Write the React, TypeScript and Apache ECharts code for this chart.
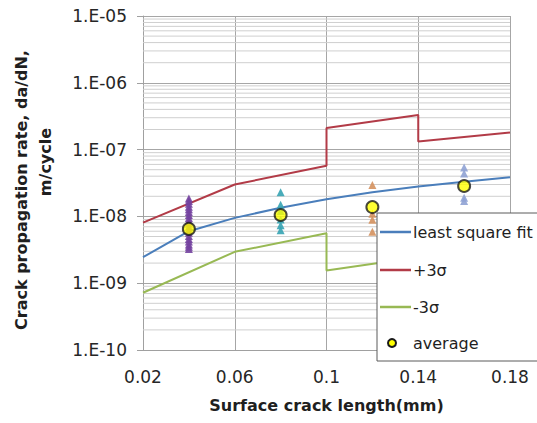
import React, { useEffect, useRef } from "react";
import * as echarts from "echarts";

// ---------- data ----------
const fitX = [0.02, 0.04, 0.06, 0.08, 0.1, 0.12, 0.14, 0.16, 0.18];
const fitY = [2.45e-9, 6.0e-9, 9.5e-9, 1.35e-8, 1.8e-8, 2.3e-8, 2.8e-8, 3.3e-8, 3.85e-8];

const bandX = [0.02, 0.06, 0.1, 0.1, 0.14, 0.14, 0.18];
const upperY = [8.05e-9, 3.0e-8, 5.75e-8, 2.1e-7, 3.3e-7, 1.32e-7, 1.8e-7];
const lowerY = [7.2e-10, 2.95e-9, 5.6e-9, 1.55e-9, 2.45e-9, 6.2e-9, 8.2e-9];

const group04 = [1.85e-8, 1.7e-8, 1.55e-8, 1.4e-8, 1.28e-8, 1.16e-8, 1.05e-8, 9.5e-9, 8.6e-9, 7.8e-9, 7.0e-9, 6.3e-9, 5.7e-9, 5.1e-9, 4.6e-9, 4.2e-9, 3.8e-9, 3.5e-9, 3.25e-9];
const group08 = [2.3e-8, 1.5e-8, 1.2e-8, 9.0e-9, 7.4e-9, 6.2e-9];
const group12 = [2.95e-8, 1.1e-8, 8.9e-9, 5.9e-9];
const group16 = [5.4e-8, 4.4e-8, 1.9e-8, 1.7e-8];
const groupX = [0.04, 0.08, 0.12, 0.16];

const averageX = [0.04, 0.08, 0.12, 0.16];
const averageY = [6.5e-9, 1.05e-8, 1.38e-8, 2.85e-8];

const xMin = 0.02;
const xMax = 0.18;
const xTickLabels = ["0.02", "0.06", "0.1", "0.14", "0.18"];
const yTickLabels = ["1.E-10", "1.E-09", "1.E-08", "1.E-07", "1.E-06", "1.E-05"];
const decadeExponents = [-10, -9, -8, -7, -6];
const minorMultipliers = [2, 3, 4, 5, 6, 7, 8, 9];

const legendNames = ["least square fit", "+3σ", "-3σ", "average"];

const FONT = "DejaVu Sans";
const C_FIT = "#4A7EBB";
const C_UP = "#B23B47";
const C_LOW = "#98B954";
const TRI_COLORS = ["#7443A0", "#35A3B3", "#D4915E", "#8FA2D4"];

export default function App() {
  const ref = useRef<HTMLDivElement>(null);

  useEffect(() => {
    document.body.style.margin = "0";
    if (!ref.current) return;
    const chart = echarts.init(ref.current, undefined, { renderer: "svg" });

    const minorValues: number[] = [];
    decadeExponents.forEach((e) =>
      minorMultipliers.forEach((m) => minorValues.push(m * Math.pow(10, e)))
    );

    const zip = (xs: number[], ys: number[]) => xs.map((x, i) => [x, ys[i]]);
    const groups = [group04, group08, group12, group16];

    const legendTop = 213;
    const legendLeft = 377;
    const rowY = [232, 270, 307, 343];
    const legendColors = [C_FIT, C_UP, C_LOW];

    const legendGraphics: any[] = [
      {
        type: "rect",
        z: 50,
        shape: { x: legendLeft, y: legendTop, width: 200, height: 148 },
        style: { fill: "#ffffff", stroke: "#5a5a5a", lineWidth: 1 },
      },
    ];
    legendNames.forEach((name, i) => {
      if (i < 3) {
        legendGraphics.push({
          type: "line",
          z: 51,
          shape: { x1: 380, y1: rowY[i], x2: 411, y2: rowY[i] },
          style: { stroke: legendColors[i], lineWidth: 2.5 },
        });
      } else {
        legendGraphics.push({
          type: "circle",
          z: 51,
          shape: { cx: 392, cy: rowY[i], r: 4 },
          style: { fill: "#FFFF00", stroke: "#1a1a1a", lineWidth: 2 },
        });
      }
      legendGraphics.push({
        type: "text",
        z: 51,
        x: 413,
        y: rowY[i],
        style: {
          text: name,
          font: `16px "${FONT}"`,
          fill: "#1f1f1f",
          textAlign: "left",
          textVerticalAlign: "middle",
        },
      });
    });

    const option: any = {
      animation: false,
      backgroundColor: "#ffffff",
      textStyle: { fontFamily: FONT },
      grid: { left: 143, right: 27, top: 16, bottom: 73, outerBoundsMode: "none" },
      xAxis: {
        type: "value",
        min: xMin,
        max: xMax,
        interval: 0.02,
        name: "Surface crack length(mm)",
        nameLocation: "middle",
        nameGap: 47,
        nameTextStyle: { fontFamily: FONT, fontSize: 16, fontWeight: "bold", color: "#1f1f1f" },
        axisLine: { show: true, lineStyle: { color: "#a0a0a0", width: 1 } },
        axisTick: { show: false },
        axisLabel: {
          margin: 18,
          fontSize: 17,
          color: "#262626",
          fontFamily: FONT,
          formatter: (v: number) => {
            const hit = xTickLabels.find((t) => Math.abs(parseFloat(t) - v) < 1e-6);
            return hit || "";
          },
        },
        splitLine: {
          show: true,
          lineStyle: { color: ["#a6a6a6", "rgba(0,0,0,0)"], width: 1 },
        },
      },
      yAxis: {
        type: "log",
        logBase: 10,
        min: 1e-10,
        max: 1e-5,
        axisLine: { show: true, lineStyle: { color: "#a0a0a0", width: 1 } },
        axisTick: { show: true, length: 6, lineStyle: { color: "#a0a0a0" } },
        axisLabel: {
          margin: 16,
          fontSize: 17,
          color: "#262626",
          fontFamily: FONT,
          formatter: (v: number) => {
            const e = Math.round(Math.log10(v));
            return yTickLabels[e + 10] || "";
          },
        },
        splitLine: { show: true, lineStyle: { color: "#a6a6a6", width: 1 } },
      },
      graphic: [
        {
          type: "text",
          x: 21,
          y: 190,
          rotation: Math.PI / 2,
          style: {
            text: "Crack propagation rate, da/dN,",
            font: `bold 16px "${FONT}"`,
            fill: "#1f1f1f",
            textAlign: "center",
            textVerticalAlign: "middle",
          },
        },
        {
          type: "text",
          x: 45,
          y: 162,
          rotation: Math.PI / 2,
          style: {
            text: "m/cycle",
            font: `bold 16px "${FONT}"`,
            fill: "#1f1f1f",
            textAlign: "center",
            textVerticalAlign: "middle",
          },
        },
        ...legendGraphics,
      ],
      series: [
        {
          name: "minor gridlines",
          type: "custom",
          z: 1,
          silent: true,
          clip: true,
          encode: { x: [0, 2], y: 1 },
          data: minorValues.map((v) => [xMin, v, xMax]),
          renderItem: (params: any, api: any) => {
            const p1 = api.coord([api.value(0), api.value(1)]);
            const p2 = api.coord([api.value(2), api.value(1)]);
            return {
              type: "line",
              shape: { x1: p1[0], y1: p1[1], x2: p2[0], y2: p2[1] },
              style: { stroke: "#cfcfcf", lineWidth: 1 },
            };
          },
        },
        {
          name: legendNames[0],
          type: "line",
          z: 3,
          data: zip(fitX, fitY),
          showSymbol: false,
          symbol: "none",
          lineStyle: { color: C_FIT, width: 2 },
        },
        {
          name: legendNames[1],
          type: "line",
          z: 3,
          data: zip(bandX, upperY),
          showSymbol: false,
          symbol: "none",
          lineStyle: { color: C_UP, width: 2 },
        },
        {
          name: legendNames[2],
          type: "line",
          z: 3,
          data: zip(bandX, lowerY),
          showSymbol: false,
          symbol: "none",
          lineStyle: { color: C_LOW, width: 2 },
        },
        ...groups.map((g, gi) => ({
          name: "data " + groupX[gi],
          type: "scatter",
          z: 4,
          symbol: "triangle",
          symbolSize: 8,
          itemStyle: { color: TRI_COLORS[gi], opacity: 0.9 },
          data: g.map((y) => [groupX[gi], y]),
        })),
        {
          name: legendNames[3],
          type: "scatter",
          z: 5,
          symbol: "circle",
          symbolSize: 12,
          itemStyle: { color: "#FFFF00", borderColor: "#1a1a1a", borderWidth: 2 },
          data: zip(averageX, averageY),
        },
      ],
    };

    chart.setOption(option);
    return () => chart.dispose();
  }, []);

  return <div ref={ref} style={{ width: 537, height: 423 }} />;
}
